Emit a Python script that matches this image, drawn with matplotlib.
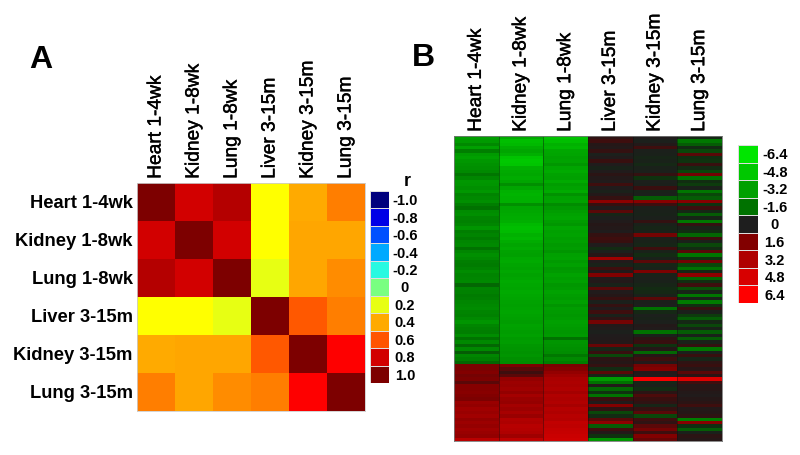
import matplotlib
matplotlib.use('Agg')
import matplotlib.pyplot as plt
import matplotlib.patheffects as pe
from matplotlib.colors import LinearSegmentedColormap, Normalize
import numpy as np

plt.rcParams['font.family'] = ['Liberation Sans', 'DejaVu Sans']

samples = ['Heart 1-4wk', 'Kidney 1-8wk', 'Lung 1-8wk', 'Liver 3-15m', 'Kidney 3-15m', 'Lung 3-15m']

# panel A, correlations
r_heart1 = [1.0, 0.80, 0.87, 0.24, 0.40, 0.50]
r_kidney1 = [0.80, 1.0, 0.80, 0.24, 0.41, 0.41]
r_lung1 = [0.87, 0.80, 1.0, 0.20, 0.41, 0.47]
r_liver3 = [0.24, 0.24, 0.20, 1.0, 0.59, 0.50]
r_kidney3 = [0.40, 0.41, 0.41, 0.59, 1.0, 0.72]
r_lung3 = [0.50, 0.41, 0.47, 0.50, 0.72, 1.0]
r_levels = [-1.0, -0.8, -0.6, -0.4, -0.2, 0, 0.2, 0.4, 0.6, 0.8, 1.0]
r_labels = ['-1.0', '-0.8', '-0.6', '-0.4', '-0.2', '0', '0.2', '0.4', '0.6', '0.8', '1.0']

# panel B, log ratios read stripe by stripe (top to bottom)
b_heart = [-3.1, -3.0, -2.4, -3.2, -2.0, -3.0, -3.2, -2.9, -2.7, -2.6,
           -2.4, -1.7, -2.3, -2.9, -2.8, -2.6, -2.9, -2.2, -2.4, -2.6,
           -2.0, -1.6, -2.5, -2.6, -2.2, -2.1, -2.3, -2.8, -2.0, -2.2,
           -1.9, -2.3, -2.4, -1.6, -2.3, -2.6, -2.4, -2.0, -1.9, -2.1,
           -2.5, -2.2, -2.3, -2.4, -1.5, -2.2, -2.1, -1.9, -2.0, -2.3,
           -2.4, -2.5, -2.2, -2.1, -2.4, -2.8, -2.3, -2.1, -2.0, -2.5,
           -1.6, -2.4, -1.5, -2.4, -1.4, -2.3, -2.0, -1.5,
           1.5, 1.5, 1.6, 1.4, 1.5, 1.2, 1.7, 1.7, 1.8, 1.6,
           1.5, 2.4, 2.2, 2.6, 2.4, 2.7, 2.2, 2.5, 2.3, 2.6,
           2.4, 2.2, 3.6]
b_kidney = [-3.6, -4.4, -4.2, -3.7, -3.4, -3.8, -4.6, -4.8, -4.7, -3.8,
            -3.6, -3.5, -3.7, -3.4, -2.6, -3.4, -3.9, -4.0, -3.9, -3.8,
            -2.6, -3.4, -3.5, -3.6, -3.7, -3.8, -4.2, -4.4, -4.3, -3.9,
            -4.1, -3.7, -3.4, -3.6, -3.3, -3.2, -3.5, -3.6, -3.4, -3.3,
            -3.5, -3.3, -3.4, -3.6, -3.5, -3.4, -3.6, -3.5, -3.4, -3.3,
            -3.2, -3.3, -3.4, -3.3, -3.2, -3.1, -3.3, -3.2, -3.1, -3.2,
            -3.0, -3.1, -2.9, -2.8, -2.7, -2.8, -2.6, -2.5,
            1.5, 1.2, 1.0, 1.2, 2.2, 2.5, 2.4, 2.6, 2.2, 2.8,
            2.4, 2.3, 2.8, 2.5, 2.9, 2.4, 3.3, 3.1, 3.5, 3.4,
            3.2, 2.6, 3.8]
b_lung = [-4.6, -4.4, -3.9, -4.1, -3.5, -3.4, -3.2, -3.3, -2.9, -3.4,
          -3.6, -3.3, -3.2, -3.6, -3.1, -3.3, -3.6, -2.7, -3.2, -3.3,
          -2.5, -2.9, -3.1, -3.3, -3.4, -3.1, -2.9, -3.4, -3.2, -3.3,
          -3.1, -3.2, -3.0, -3.1, -2.8, -3.2, -3.3, -3.0, -3.2, -2.9,
          -3.0, -3.3, -3.1, -3.2, -2.9, -3.0, -3.3, -3.1, -3.0, -3.2,
          -2.8, -3.1, -3.0, -2.9, -3.0, -3.2, -3.1, -3.0, -2.9, -3.0,
          -1.6, -2.8, -2.7, -2.6, -2.5, -1.8, -2.4, -2.0,
          1.5, 1.7, 2.2, 2.6, 3.0, 3.1, 3.0, 3.2, 2.8, 3.3,
          3.1, 3.3, 2.9, 3.4, 3.2, 3.5, 3.4, 3.9, 3.8, 4.0,
          4.1, 4.3, 4.4]
b_liver = [0.7, 1.0, 0.4, 0.3, 0.8, -0.2, 0.2, 0.9, 0.1, -0.5,
           0.2, 0.6, 0.3, 0.2, 1.0, 0.1, -0.4, 0.3, 0.8, 2.0,
           0.9, 0.2, 1.2, -0.6, -0.1, 0.2, 0.4, 0.3, 0.1, 0.8,
           1.0, 0.9, 0.1, -0.8, -0.2, 0.5, 2.6, 0.2, -0.5, 1.0,
           0.3, 1.6, 0.2, 0.3, -0.5, 1.2, 0.2, 0.4, 0.9, -0.3,
           0.8, 0.2, 1.0, -0.4, 0.7, 1.4, 0.3, 0.2, -0.2, 0.1,
           0.2, 0.3, 1.3, -0.6, 0.9, -1.2, 0.6, 0.4,
           0.8, -0.8, 1.2, -0.6, -3.0, -1.6, 0.3, -1.5, -1.0, -1.6,
           0.9, 0.2, 1.6, 0.7, -1.2, -0.8, 1.2, 2.0, -1.4, 1.0,
           0.3, -1.0, -2.8]
b_kidney3 = [0.1, -0.2, 0.3, 1.0, -0.3, -0.4, -0.6, -0.5, -0.7, -0.4,
             -0.3, 0.8, -1.0, -0.2, -0.3, 0.9, -0.5, -0.3, -1.4, 1.8,
             1.0, -0.3, -0.4, -0.5, -0.3, 0.8, -0.4, -0.6, -0.4, 1.4,
             -0.3, -0.5, -0.6, 1.0, -0.5, -0.8, -0.4, 1.2, -0.6, -0.5,
             1.5, -0.5, -0.3, -0.4, -0.6, -0.8, -0.7, -0.4, 1.2, -0.3,
             -0.1, -1.6, -0.7, -0.2, -0.5, -0.2, 0.3, 0.2, -1.6, -0.4,
             0.6, 0.9, -1.0, 0.4, -1.5, 0.5, 1.0, 0.3,
             1.4, 1.6, 0.3, 0.2, 6.0, -0.6, -0.4, -0.8, 0.6, 1.1,
             0.9, 0.7, -0.6, 0.8, 1.2, -1.2, 1.0, 0.7, 1.2, 1.4,
             1.0, 1.6, 1.3]
b_lung3 = [-0.7, -1.8, -1.4, -0.8, -1.2, 1.2, -0.9, -1.0, 0.9, -0.8,
           -1.2, 1.4, -1.6, -0.9, -1.1, -0.4, -1.7, -1.2, -1.4, 1.8,
           -1.0, 1.0, -0.7, -1.4, -0.6, -1.8, 0.8, -0.5, -0.9, -1.5,
           1.0, -0.4, -1.2, -0.8, 1.2, -1.7, -1.0, 1.4, -1.2, -1.6,
           -0.7, 2.0, -1.5, -0.9, 1.0, -1.3, -0.6, -1.7, -0.4, -1.9,
           -0.9, 0.9, -0.3, -1.1, -1.4, -0.7, -1.2, -0.5, -1.4, -0.4,
           -1.4, -0.5, 0.8, -1.7, -0.3, 0.9, -0.6, 0.7,
           0.9, 0.5, 1.2, 0.6, 5.0, 1.0, 0.4, 0.5, 0.3, 0.2,
           0.4, 0.6, 1.0, 0.3, 0.4, 0.7, -2.0, 1.8, -0.9, -1.4,
           -0.4, 0.6, 0.4]
b_levels = [-6.4, -4.8, -3.2, -1.6, 0, 1.6, 3.2, 4.8, 6.4]
b_labels = ['-6.4', '-4.8', '-3.2', '-1.6', '0', '1.6', '3.2', '4.8', '6.4']

W, H = 800, 455


def px_axes(x0, y0, x1, y1):
    return fig.add_axes([x0 / W, 1 - y1 / H, (x1 - x0) / W, (y1 - y0) / H])


r_nodes = [(-1.0, (0, 0, 125)), (-0.8, (0, 0, 230)), (-0.6, (0, 80, 255)), (-0.4, (0, 170, 255)),
           (-0.2, (40, 250, 225)), (0, (120, 255, 130)), (0.2, (230, 255, 20)), (0.24, (255, 255, 0)),
           (0.4, (255, 170, 0)), (0.6, (255, 85, 0)), (0.72, (255, 0, 0)), (0.8, (210, 0, 0)),
           (1.0, (125, 0, 0))]
# extra nodes round zero keep the weak stripes dark, as they look in the figure
b_nodes = [(-6.4, (0, 230, 0)), (-4.8, (0, 200, 0)), (-3.2, (0, 160, 0)), (-1.6, (0, 115, 0)),
           (-1.0, (15, 50, 15)), (-0.5, (25, 34, 25)), (0, (30, 30, 30)), (0.5, (38, 22, 22)),
           (1.0, (60, 14, 14)), (1.4, (115, 3, 3)), (1.6, (130, 0, 0)), (3.2, (175, 0, 0)),
           (4.8, (215, 0, 0)), (6.4, (255, 0, 0))]


def make_cmap(nodes):
    lo, hi = nodes[0][0], nodes[-1][0]
    pts = [((v - lo) / (hi - lo), tuple(c / 255 for c in col)) for v, col in nodes]
    return LinearSegmentedColormap.from_list('m', pts, N=512), Normalize(lo, hi)


r_cmap, r_norm = make_cmap(r_nodes)
b_cmap, b_norm = make_cmap(b_nodes)


def legend(ax, levels, labels, cmap, norm, pad):
    z = np.array(levels).reshape(-1, 1)
    ax.pcolormesh(z, cmap=cmap, norm=norm, edgecolors='#dddddd', linewidth=0.5)
    ax.invert_yaxis()
    ax.yaxis.tick_right()
    ax.set_yticks(np.arange(len(levels)) + 0.5, labels, fontsize=10.5, fontweight='bold', ha='center')
    ax.tick_params(axis='y', length=0, pad=pad)
    ax.set_xticks([])
    for s in ax.spines.values():
        s.set_visible(False)


def top_labels(ax):
    ax.xaxis.tick_top()
    ax.set_xticks(np.arange(6) + 0.5, samples, rotation=90, fontsize=13.8, ha='center', va='bottom')
    for t in ax.get_xticklabels():
        t.set_path_effects([pe.withStroke(linewidth=0.3, foreground='black')])


fig = plt.figure(figsize=(8, 4.55), dpi=100)

# A
ax_a = px_axes(137, 183, 365, 411)
rmat = np.array([r_heart1, r_kidney1, r_lung1, r_liver3, r_kidney3, r_lung3])
ax_a.pcolormesh(rmat, cmap=r_cmap, norm=r_norm)
ax_a.invert_yaxis()
top_labels(ax_a)
ax_a.set_yticks(np.arange(6) + 0.5, samples, fontsize=13.2, fontweight='bold')
ax_a.tick_params(length=0, pad=3)
for s in ax_a.spines.values():
    s.set_color('#cccccc')
    s.set_linewidth(0.6)

ax_ra = px_axes(370, 191, 389, 383)
legend(ax_ra, r_levels, r_labels, r_cmap, r_norm, 11.5)
fig.text(407 / W, 1 - 186 / H, 'r', fontsize=13, fontweight='bold', ha='center', va='baseline')

# B
ax_b = px_axes(454, 136, 722, 441)
bmat = np.array([b_heart, b_kidney, b_lung, b_liver, b_kidney3, b_lung3]).T
ax_b.pcolormesh(bmat, cmap=b_cmap, norm=b_norm)
ax_b.invert_yaxis()
top_labels(ax_b)
ax_b.set_yticks([])
ax_b.tick_params(length=0, pad=3)
for xc in range(1, 6):
    ax_b.axvline(xc, color='#101010', lw=0.5, alpha=0.6)
for s in ax_b.spines.values():
    s.set_color('#777777')
    s.set_linewidth(0.6)

ax_rb = px_axes(738, 145, 758, 303)
legend(ax_rb, b_levels, b_labels, b_cmap, b_norm, 12)

fig.text(41 / W, 1 - 68 / H, 'A', fontsize=23, fontweight='bold', ha='center', va='baseline')
fig.text(423 / W, 1 - 66 / H, 'B', fontsize=23, fontweight='bold', ha='center', va='baseline')

fig.savefig('out.png', dpi=100)
